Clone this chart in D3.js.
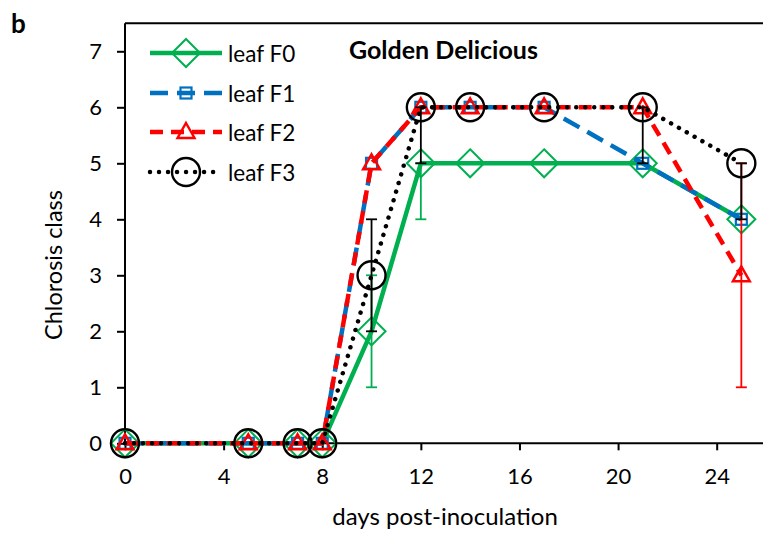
<!DOCTYPE html>
<html>
<head>
<meta charset="utf-8">
<script src="https://cdn.jsdelivr.net/npm/d3@7"></script>
<style>
  html, body { margin: 0; padding: 0; background: #fff; }
  svg { display: block; }
  text { font-family: Lato, "Open Sans", sans-serif; fill: #000; }
</style>
</head>
<body>
<div id="chart"></div>
<script>
// Days post-inoculation at which chlorosis was scored
const days = [0, 5, 7, 8, 10, 12, 14, 17, 21, 25];

// Mean chlorosis class per leaf
const leafF0 = [0, 0, 0, 0, 2, 5, 5, 5, 5, 4];
const leafF1 = [0, 0, 0, 0, 5, 6, 6, 6, 5, 4];
const leafF2 = [0, 0, 0, 0, 5, 6, 6, 6, 6, 3];
const leafF3 = [0, 0, 0, 0, 3, 6, 6, 6, 6, 5];

// Error bars (minus / plus); null where no bar is shown
const errMinusF0 = [null, null, null, null, 1, 1, null, null, null, null];
const errPlusF0  = [null, null, null, null, 1, 0, null, null, null, null];
const errMinusF2 = [null, null, null, null, null, null, null, null, null, 2];
const errPlusF2  = [null, null, null, null, null, null, null, null, null, 2];
const errMinusF3 = [null, null, null, null, 1, 1, null, null, 1, 1];
const errPlusF3  = [null, null, null, null, 1, 0, null, null, 0, 0];

const seriesNames = ["leaf F0", "leaf F1", "leaf F2", "leaf F3"];
const xTicks = [0, 4, 8, 12, 16, 20, 24];
const yTicks = [0, 1, 2, 3, 4, 5, 6, 7];

const W = 763, H = 533;
const svg = d3.select("#chart").append("svg").attr("width", W).attr("height", H);

const x = d3.scaleLinear().domain([0, 26]).range([125, 766]);
const y = d3.scaleLinear().domain([0, 7.5]).range([443.3, 23.3]);

// Series styling
const styles = [
  { color: "#00B050", width: 4.5, dash: null, cap: "butt", marker: "diamond", errColor: "#00B050" },
  { color: "#0070C0", width: 4.5, dash: "18,9", cap: "butt", marker: "square", errColor: "#0070C0" },
  { color: "#FF0000", width: 4.5, dash: "13,8", cap: "butt", marker: "triangle", errColor: "#FF0000" },
  { color: "#000000", width: 4.5, dash: "0.01,9", cap: "round", marker: "circle", errColor: "#000000" }
];
const values = [leafF0, leafF1, leafF2, leafF3];
const errs = [
  [errMinusF0, errPlusF0],
  [null, null],
  [errMinusF2, errPlusF2],
  [errMinusF3, errPlusF3]
];

// Frame: top border
svg.append("line")
  .attr("x1", x(0)).attr("x2", W + 5)
  .attr("y1", y(7.5)).attr("y2", y(7.5))
  .attr("stroke", "#000").attr("stroke-width", 2);

// Axes
const yAxis = d3.axisLeft(y).tickValues(yTicks).tickSize(8).tickPadding(15).tickFormat(d3.format("d"));
const gy = svg.append("g").attr("transform", `translate(${x(0)},0)`).call(yAxis);
const xAxis = d3.axisBottom(x).tickValues(xTicks).tickSize(7).tickPadding(18).tickFormat(d3.format("d"));
const gx = svg.append("g").attr("transform", `translate(0,${y(0)})`).call(xAxis);
[gx, gy].forEach(g => {
  g.select(".domain").attr("stroke", "#000").attr("stroke-width", 2);
  g.selectAll(".tick line").attr("stroke", "#000").attr("stroke-width", 2);
  g.selectAll(".tick text").style("font-size", "22px").attr("fill", "#000");
});
gy.select(".domain").attr("d", `M0,${y(0)}V${y(7.5)}`);
gx.select(".domain").attr("d", `M${x(0)},0H${W + 5}`);

// Marker drawing helper
function drawMarker(g, type, cx, cy, color) {
  if (type === "diamond") {
    const r = 14;
    g.append("path")
      .attr("d", `M${cx},${cy - r}L${cx + r},${cy}L${cx},${cy + r}L${cx - r},${cy}Z`)
      .attr("fill", "none").attr("stroke", color).attr("stroke-width", 2);
  } else if (type === "square") {
    const s = 11;
    g.append("rect").attr("x", cx - s / 2).attr("y", cy - s / 2)
      .attr("width", s).attr("height", s)
      .attr("fill", "none").attr("stroke", color).attr("stroke-width", 2.2);
  } else if (type === "triangle") {
    const w = 17, h = 15;
    g.append("path")
      .attr("d", `M${cx},${cy - h * 0.6}L${cx + w / 2},${cy + h * 0.4}L${cx - w / 2},${cy + h * 0.4}Z`)
      .attr("fill", "none").attr("stroke", color).attr("stroke-width", 2.4);
  } else if (type === "circle") {
    g.append("circle").attr("cx", cx).attr("cy", cy).attr("r", 14)
      .attr("fill", "none").attr("stroke", color).attr("stroke-width", 2.4);
  }
}

const line = d3.line().x((d, i) => x(days[i])).y(d => y(d));
const plot = svg.append("g");

values.forEach((vals, si) => {
  const st = styles[si];
  const g = plot.append("g");
  // series line
  g.append("path").datum(vals).attr("d", line)
    .attr("fill", "none").attr("stroke", st.color)
    .attr("stroke-width", st.width)
    .attr("stroke-dasharray", st.dash)
    .attr("stroke-linecap", st.cap)
    .attr("stroke-linejoin", "round");
  // error bars
  const [em, ep] = errs[si];
  if (em) {
    vals.forEach((v, i) => {
      if (em[i] === null) return;
      const lo = v - em[i], hi = v + ep[i];
      const cx = x(days[i]);
      g.append("line").attr("x1", cx).attr("x2", cx).attr("y1", y(lo)).attr("y2", y(hi))
        .attr("stroke", st.errColor).attr("stroke-width", 1.8);
      [lo, hi].forEach(e => {
        g.append("line").attr("x1", cx - 5.5).attr("x2", cx + 5.5).attr("y1", y(e)).attr("y2", y(e))
          .attr("stroke", st.errColor).attr("stroke-width", 1.8);
      });
    });
  }
  // markers
  vals.forEach((v, i) => drawMarker(g, st.marker, x(days[i]), y(v), st.color));
});

// Legend
const legendRows = [53, 93, 132, 172];
seriesNames.forEach((name, si) => {
  const st = styles[si];
  const g = svg.append("g");
  const ly = legendRows[si];
  g.append("line").attr("x1", 150).attr("x2", 222).attr("y1", ly).attr("y2", ly)
    .attr("stroke", st.color).attr("stroke-width", st.width)
    .attr("stroke-dasharray", st.dash).attr("stroke-linecap", st.cap);
  drawMarker(g, st.marker, 186, ly, st.color);
  g.append("text").attr("x", 228).attr("y", ly + 8.5).style("font-size", "22.5px").text(name);
});

// Title and labels
svg.append("text").attr("x", 349).attr("y", 59)
  .style("font-size", "25px").style("font-weight", "bold").text("Golden Delicious");
svg.append("text").attr("x", 11).attr("y", 33)
  .style("font-size", "26px").style("font-weight", "bold").text("b");
svg.append("text")
  .attr("transform", `translate(62,265) rotate(-90)`)
  .attr("text-anchor", "middle").style("font-size", "23.5px").text("Chlorosis class");
svg.append("text").attr("x", 445).attr("y", 525)
  .attr("text-anchor", "middle").style("font-size", "24px").text("days post-inoculation");
</script>
</body>
</html>
